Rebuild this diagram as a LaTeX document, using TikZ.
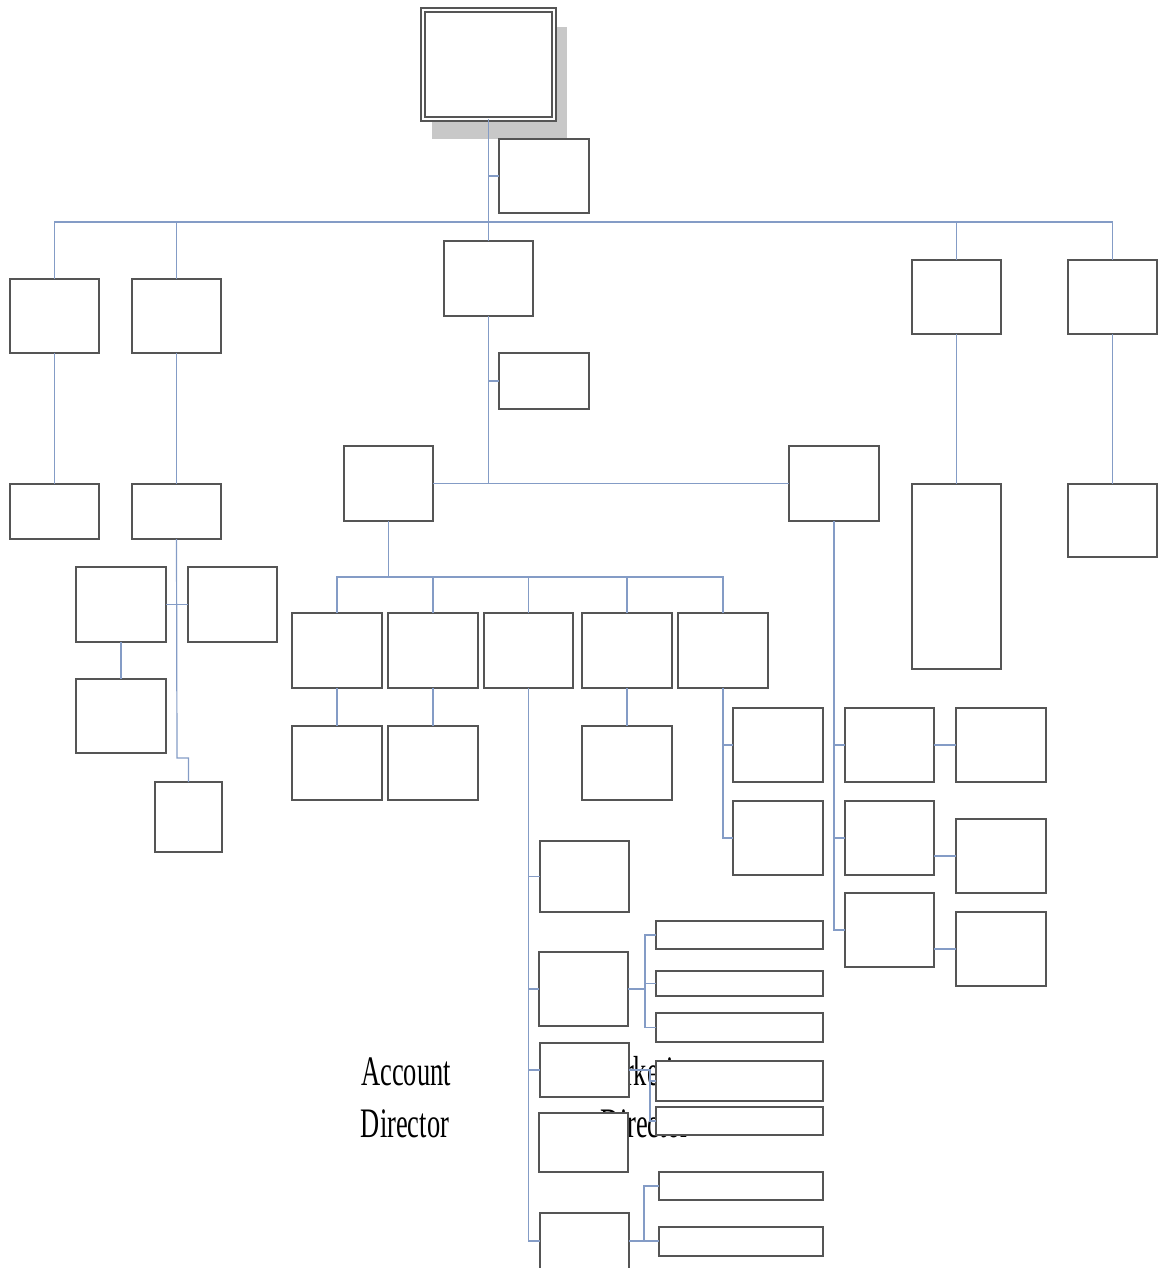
\documentclass[tikz,border=0pt]{standalone}
\usepackage{fontspec}
\newfontfamily\lblfont{Liberation Serif}
\usetikzlibrary{calc}
\definecolor{linkblue}{RGB}{132,156,198}
\definecolor{boxgray}{RGB}{85,85,85}
\definecolor{shadowgray}{RGB}{200,200,200}
\tikzset{
  boxst/.style={draw=boxgray, line width=0.8pt, fill=white, inner sep=0pt, outer sep=0pt, anchor=north west},
  conn/.style={draw=linkblue, line width=0.6pt},
  lbl/.style={inner sep=0pt, anchor=base, font=\lblfont\fontsize{21}{26}\selectfont, text=black}
}
% a box given by its top-left and bottom-right corners (in px units)
\newcommand\orgbox[6][]{\node[boxst,#1, minimum width={(#5-#3)*0.5pt}, minimum height={(#6-#4)*0.5pt}] (#2) at (#3,#4) {};}
\newcommand\squeeze[1]{\scalebox{0.63}[1]{#1}}
\begin{document}
\begin{tikzpicture}[x=0.5pt,y=-0.5pt]
\useasboundingbox (0,0) rectangle (1158,1268);

% drop shadow of the head box
\fill[shadowgray] (432,27) rectangle (567,139);

% loose labels, partly hidden by the boxes
\node[lbl] (acc1) at (406,1085) {\squeeze{Account}};
\node[lbl] (acc2) at (405,1137) {\squeeze{Director}};
\node[lbl] (mkt1) at (645,1085) {\squeeze{Marketing}};
\node[lbl] (mkt2) at (645,1137) {\squeeze{Director}};

% head
\orgbox[double=white, double distance=1pt, line width=0.9pt]{top}{423}{10}{554}{119}
\orgbox{asst}{499}{139}{589}{213}

% second level
\orgbox{L1}{10}{279}{99}{353}
\orgbox{L2}{132}{279}{221}{353}
\orgbox{C}{444}{241}{533}{316}
\orgbox{R1}{912}{260}{1001}{334}
\orgbox{R2}{1068}{260}{1157}{334}

% left branches
\orgbox{L1b}{10}{484}{99}{539}
\orgbox{L2b}{132}{484}{221}{539}
\orgbox{A}{76}{567}{166}{642}
\orgbox{B}{188}{567}{277}{642}
\orgbox{Ab}{76}{679}{166}{753}
\orgbox{Lsm}{155}{782}{222}{852}

% centre branch
\orgbox{Casst}{499}{353}{589}{409}
\orgbox{D1}{344}{446}{433}{521}
\orgbox{D2}{789}{446}{879}{521}
\orgbox{K1}{292}{613}{382}{688}
\orgbox{K2}{388}{613}{478}{688}
\orgbox{K3}{484}{613}{573}{688}
\orgbox{K4}{582}{613}{672}{688}
\orgbox{K5}{678}{613}{768}{688}
\orgbox{K1b}{292}{726}{382}{800}
\orgbox{K2b}{388}{726}{478}{800}
\orgbox{K4b}{582}{726}{672}{800}

\orgbox{E1}{540}{841}{629}{912}
\orgbox{E2}{539}{952}{628}{1026}
\orgbox{E3}{540}{1043}{629}{1097}
\orgbox{E4}{539}{1113}{628}{1172}
\orgbox{E5}{540}{1213}{629}{1270}

\orgbox{F1}{656}{921}{823}{949}
\orgbox{F2}{656}{971}{823}{996}
\orgbox{F3}{656}{1013}{823}{1042}
\orgbox{F4}{656}{1061}{823}{1101}
\orgbox{F5}{656}{1107}{823}{1135}
\orgbox{F6}{659}{1172}{823}{1200}
\orgbox{F7}{659}{1227}{823}{1256}

\orgbox{G1}{733}{708}{823}{782}
\orgbox{G2}{733}{801}{823}{875}
\orgbox{H1}{845}{708}{934}{782}
\orgbox{H2}{845}{801}{934}{875}
\orgbox{H3}{845}{893}{934}{967}
\orgbox{I1}{956}{708}{1046}{782}
\orgbox{I2}{956}{819}{1046}{893}
\orgbox{I3}{956}{912}{1046}{986}

% right branches
\orgbox{R1b}{912}{484}{1001}{669}
\orgbox{R2b}{1068}{484}{1157}{557}

% ---- connectors ----
\coordinate (bus) at (488,222);
\coordinate (bus2) at (388,577);
\coordinate (j1) at (177,758);
\coordinate (e2j) at (645,989);
\coordinate (e3j) at (650,1070);
\coordinate (e5j) at (644,1241);

\draw[conn] (top.south) -- (C.north);
\draw[conn] (top.south |- asst.west) -- (asst.west);
\draw[conn] (L1.north) -- (L1.north |- bus) -- (R2.north |- bus) -- (R2.north);
\draw[conn] (L2.north) -- (L2.north |- bus);
\draw[conn] (R1.north) -- (R1.north |- bus);

\draw[conn] (L1.south) -- (L1b.north);
\draw[conn] (L2.south) -- (L2b.north);
\draw[conn] (R1.south) -- (R1b.north);
\draw[conn] (R2.south) -- (R2b.north);

\draw[conn] (L2b.south) -- (j1) -| (Lsm.north);
\draw[conn] (A.east) -- (B.west);
\draw[conn] (A.south) -- (Ab.north);

\draw[conn] (C.south) -- (C.south |- D1.east);
\draw[conn] (C.south |- Casst.west) -- (Casst.west);
\draw[conn] (D1.east) -- (D2.west);

\draw[conn] (D1.south) -- (D1.south |- bus2);
\draw[conn] (K1.north) -- (K1.north |- bus2) -- (K5.north |- bus2) -- (K5.north);
\draw[conn] (K2.north) -- (K2.north |- bus2);
\draw[conn] (K3.north) -- (K3.north |- bus2);
\draw[conn] (K4.north) -- (K4.north |- bus2);
\draw[conn] (K1.south) -- (K1b.north);
\draw[conn] (K2.south) -- (K2b.north);
\draw[conn] (K4.south) -- (K4b.north);

\draw[conn] (K3.south) -- (K3.south |- e5j) -- (E5.west |- e5j);
\draw[conn] (K3.south |- E1.west) -- (E1.west);
\draw[conn] (K3.south |- E2.west) -- (E2.west);
\draw[conn] (K3.south |- E3.west) -- (E3.west);

\draw[conn] (E2.east) -- (e2j);
\draw[conn] (F1.west) -- (F1.west -| e2j) -- (F3.west -| e2j) -- (F3.west);
\draw[conn] (F2.west -| e2j) -- (F2.west);

\draw[conn] (E3.east |- e3j) -- (e3j) -- (F5.west -| e3j) -- (F5.west);
\draw[conn] (F4.west -| e3j) -- (F4.west);

\draw[conn] (E5.east |- e5j) -- (F7.west |- e5j);
\draw[conn] (F6.west) -- (F6.west -| e5j) -- (e5j);

\draw[conn] (K5.south) |- (G2.west);
\draw[conn] (K5.south |- G1.west) -- (G1.west);

\draw[conn] (D2.south) |- (H3.west);
\draw[conn] (D2.south |- H1.west) -- (H1.west);
\draw[conn] (D2.south |- H2.west) -- (H2.west);

\draw[conn] (H1.east) -- (I1.west);
\draw[conn] (H2.east |- I2.west) -- (I2.west);
\draw[conn] (H3.east |- I3.west) -- (I3.west);
\end{tikzpicture}
\end{document}
